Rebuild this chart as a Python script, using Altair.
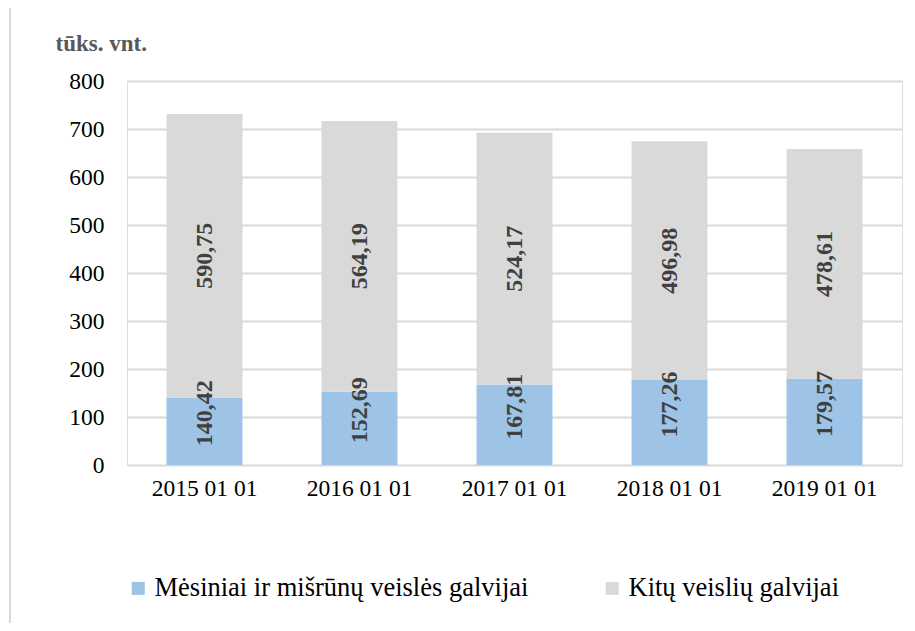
import altair as alt
import pandas as pd

dates = ["2015 01 01", "2016 01 01", "2017 01 01", "2018 01 01", "2019 01 01"]
mesiniai = [140.42, 152.69, 167.81, 177.26, 179.57]
kitu = [590.75, 564.19, 524.17, 496.98, 478.61]
series = ["Mėsiniai ir mišrūnų veislės galvijai", "Kitų veislių galvijai"]
colors = ["#9dc3e6", "#d9d9d9"]
y_ticks = [0, 100, 200, 300, 400, 500, 600, 700, 800]

rows = []
for d, a, b in zip(dates, mesiniai, kitu):
    rows.append({"date": d, "series": series[0], "value": a, "ord": 0})
    rows.append({"date": d, "series": series[1], "value": b, "ord": 1})
df = pd.DataFrame(rows)

FONT = "Liberation Serif"

base = alt.Chart(df).transform_stack(
    stack="value", groupby=["date"], as_=["y0", "y1"], sort=[alt.SortField("ord")]
).transform_calculate(
    mid="(datum.y0 + datum.y1) / 2",
    label="replace(format(datum.value, '.2f'), '.', ',')",
)

xenc = alt.X("date:N", title=None, sort=dates,
             scale=alt.Scale(paddingInner=0.51, paddingOuter=0.255),
             axis=alt.Axis(labelAngle=0, labelFont=FONT, labelFontSize=23.5, labelColor="#000000",
                           labelPadding=11, ticks=False, domain=False, grid=False))

bars = base.mark_bar().encode(
    x=xenc,
    y=alt.Y("y0:Q", scale=alt.Scale(domain=[0, 800]),
            axis=alt.Axis(values=y_ticks, title="tūks. vnt.", titleAngle=0, titleAlign="left",
                          titleBaseline="middle", titleX=-72, titleY=-38, titleFont=FONT,
                          titleFontSize=23, titleFontWeight="bold", titleColor="#595959",
                          labelFont=FONT, labelFontSize=23.5, labelColor="#000000", labelPadding=23,
                          ticks=False, domain=False, gridColor="#d9d9d9", gridWidth=2)),
    y2="y1:Q",
    color=alt.Color("series:N", sort=series, scale=alt.Scale(domain=series, range=colors),
                    legend=alt.Legend(title=None, orient="none", legendX=-2, legendY=494,
                                      direction="horizontal", symbolType="square", symbolSize=169,
                                      symbolStrokeWidth=0, labelFont=FONT, labelFontSize=26.5,
                                      labelColor="#000000", columnPadding=70, labelOffset=3,
                                      labelLimit=0)),
    order=alt.Order("ord:Q"),
)

label_style = dict(angle=270, font=FONT, fontSize=24, fontWeight="bold",
                   color="#404040", baseline="middle", align="center")
label_enc = dict(x=alt.X("date:N", sort=dates), y=alt.Y("mid:Q"), text="label:N")

labels_low = base.transform_filter("datum.ord == 0").mark_text(dx=18, **label_style).encode(**label_enc)
labels_up = base.transform_filter("datum.ord == 1").mark_text(**label_style).encode(**label_enc)

frame = alt.Chart(pd.DataFrame({"a": [0]})).mark_rect(
    fill=None, stroke="#d9d9d9", strokeWidth=2
).encode(
    x=alt.value(-117), x2=alt.value(900), y=alt.value(-75), y2=alt.value(700)
)

chart = alt.layer(frame, bars, labels_low, labels_up).properties(
    width=775, height=384,
    autosize=alt.AutoSizeParams(type="none"),
    padding={"left": 119, "top": 73, "right": 5, "bottom": 158},
).configure_view(stroke=None).configure(background="white", font=FONT)

chart.save("out.html", embed_options={"renderer": "svg", "actions": False})
